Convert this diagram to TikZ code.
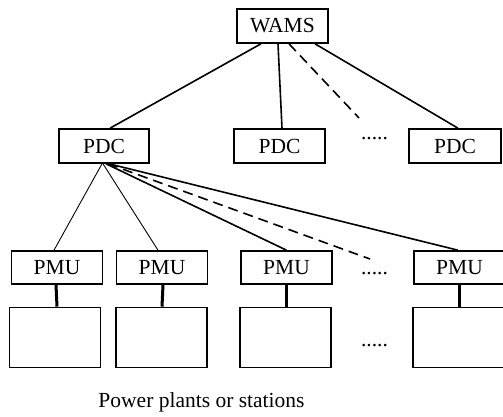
\documentclass[tikz,border=0pt]{standalone}
\usepackage{fontspec}
\setmainfont{Liberation Serif}
\usetikzlibrary{calc}
\begin{document}
\begin{tikzpicture}[x=1pt,y=-1pt,
  box/.style={draw,line width=1.6pt,inner sep=0pt,font=\fontsize{21.5}{24}\selectfont},
  plant/.style={draw,line width=1.6pt,inner sep=0pt,minimum width=91pt,minimum height=60pt},
  thinl/.style={line width=0.9pt},
  thickl/.style={line width=1.6pt},
  dashl/.style={line width=1.6pt,dash pattern=on 10pt off 6pt},
  stem/.style={line width=3pt},
  dotsl/.style={font=\fontsize{21.5}{24}\selectfont,inner sep=0pt}]
\useasboundingbox (0,0) rectangle (503,417);
\clip (0,0) rectangle (503,417);
% top
\node[box,minimum width=91pt,minimum height=34pt] (wams) at (282.5,26) {WAMS};
\node[box,minimum width=90pt,minimum height=34pt] (pdc1) at (104,146) {PDC};
\node[box,minimum width=91pt,minimum height=34pt] (pdc2) at (279.5,146) {PDC};
\node[box,minimum width=92pt,minimum height=34pt] (pdc3) at (455,146) {PDC};
\node[dotsl] (d1) at (374.5,139) {.....};
\coordinate (dend1) at (359,118);
\draw[thickl] ([xshift=-21.5pt]wams.south) -- ([xshift=6pt]pdc1.north);
\draw[thickl] ([xshift=-4.5pt]wams.south) -- ([xshift=2.5pt]pdc2.north);
\draw[dashl] ([xshift=6.5pt]wams.south) -- (dend1);
\draw[thickl] ([xshift=32.5pt]wams.south) -- ([xshift=3pt]pdc3.north);
% PMUs
\node[box,minimum width=91pt,minimum height=33pt] (pmu1) at (57,267.5) {PMU};
\node[box,minimum width=91pt,minimum height=33pt] (pmu2) at (162,267.5) {PMU};
\node[box,minimum width=91pt,minimum height=33pt] (pmu3) at (286.5,267.5) {PMU};
\node[box,minimum width=91pt,minimum height=33pt] (pmu4) at (459.5,267.5) {PMU};
\node[dotsl] (d2) at (374.5,274) {.....};
\coordinate (dend2) at (370,259);
\draw[thinl] ([xshift=-2pt]pdc1.south) -- ([xshift=-3pt]pmu1.north);
\draw[thinl] ([xshift=-1pt]pdc1.south) -- ([xshift=-4pt]pmu2.north);
\draw[thickl] ([xshift=2pt]pdc1.south) -- (pmu3.north);
\draw[dashl] ([xshift=4pt]pdc1.south) -- (dend2);
\draw[thickl] ([xshift=5pt]pdc1.south) -- ([xshift=-1.5pt]pmu4.north);
% plants
\node[plant] (p1) at (55,337.5) {};
\node[plant] (p2) at (161.5,337.5) {};
\node[plant] (p3) at (285.5,337.5) {};
\node[plant] (p4) at (458.5,337.5) {};
\node[dotsl] (d3) at (374.5,346) {.....};
\draw[stem] ([xshift=-1pt]pmu1.south) -- (pmu1.south |- p1.north);
\draw[stem] ([xshift=1pt]pmu2.south) -- (pmu2.south |- p2.north);
\draw[stem] (pmu3.south) -- (pmu3.south |- p3.north);
\draw[stem] (pmu4.south) -- (pmu4.south |- p4.north);
\node[font=\fontsize{21.5}{24}\selectfont] (lbl) at (201.5,402) {Power plants or stations};
\end{tikzpicture}
\end{document}
